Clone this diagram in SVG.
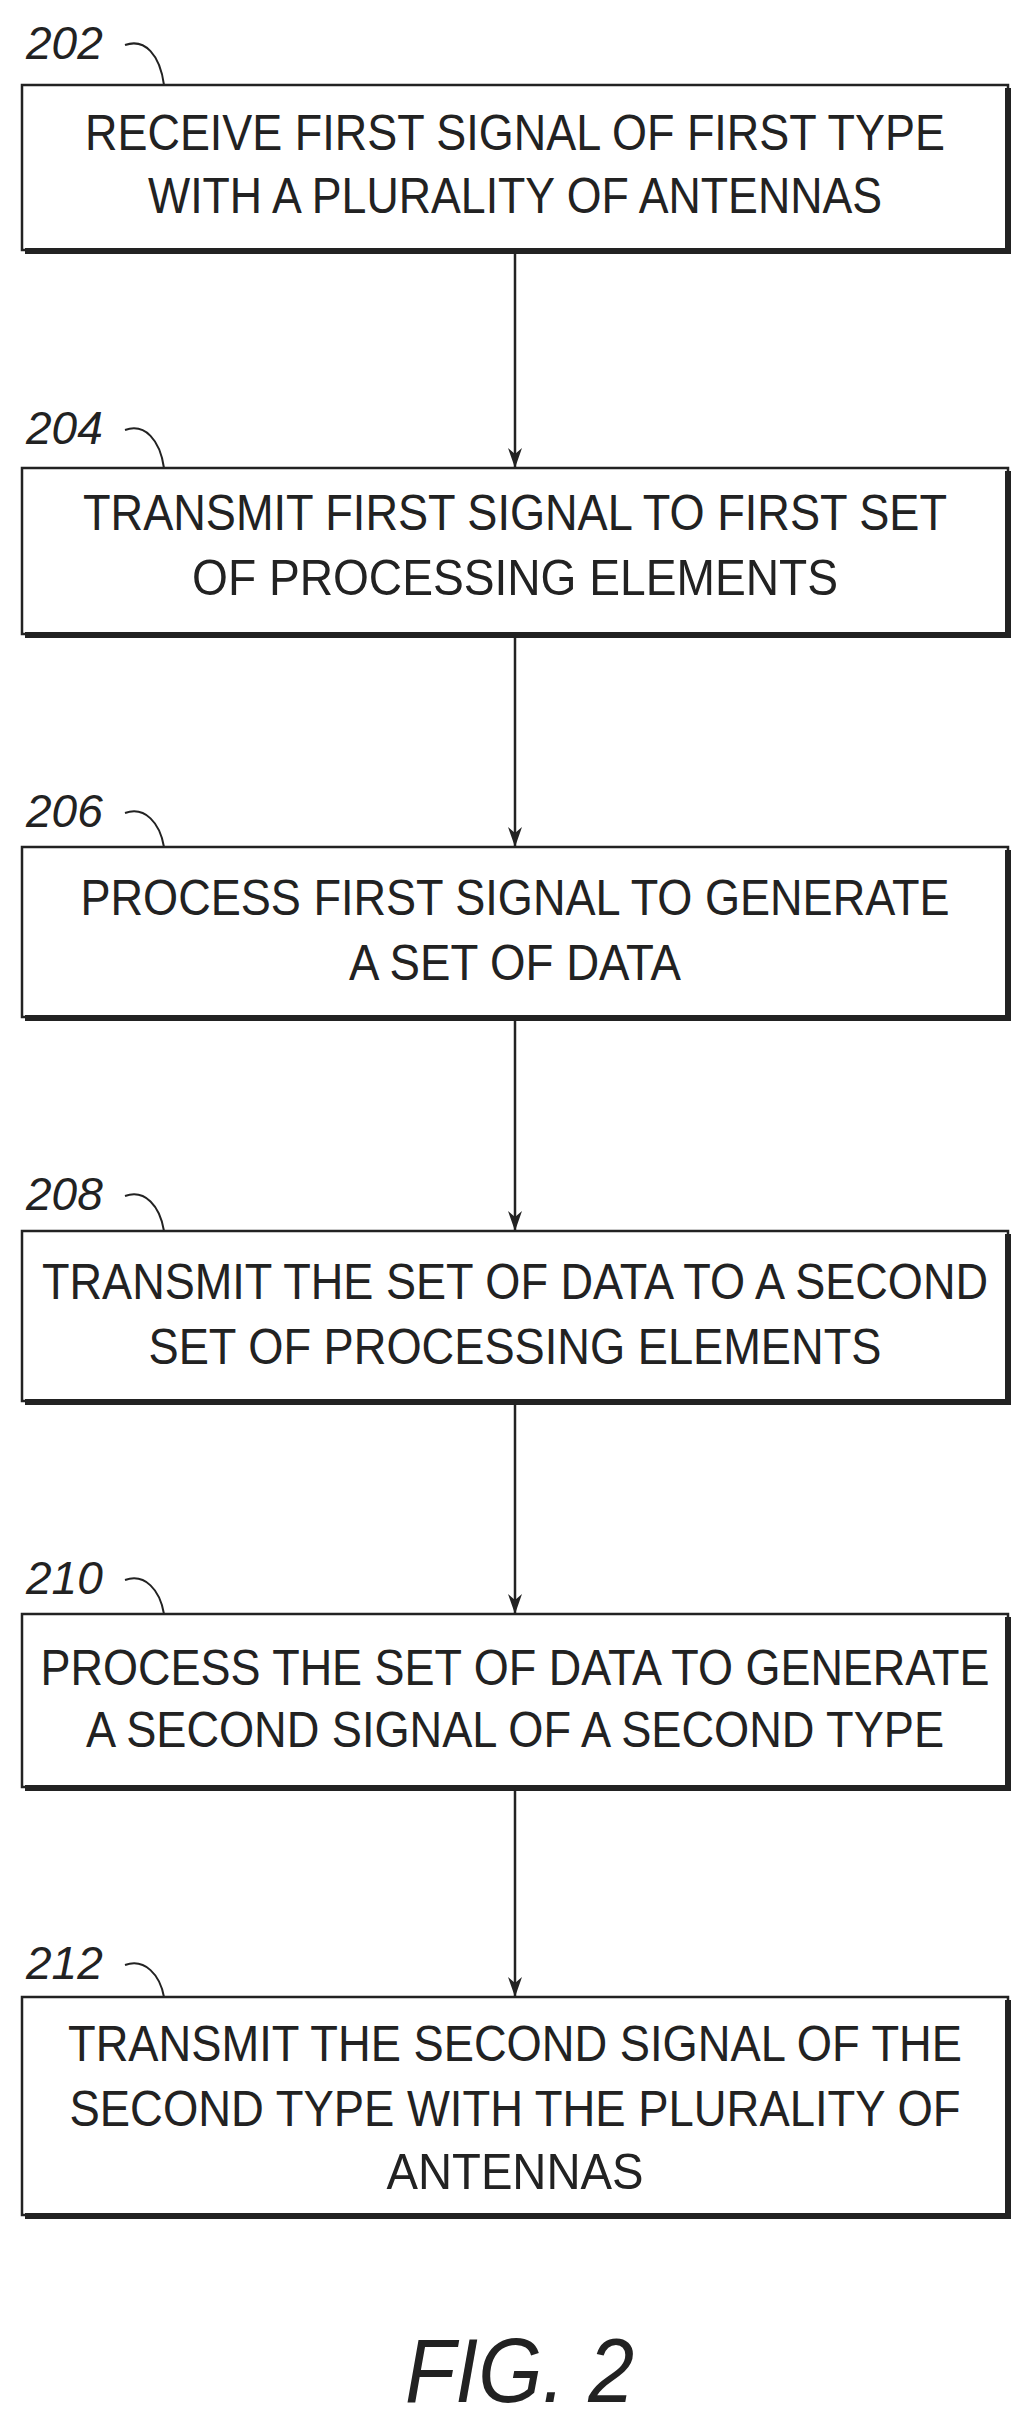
<svg xmlns="http://www.w3.org/2000/svg" width="1028" height="2411" viewBox="0 0 1028 2411">
<defs>
<marker id="ah" markerWidth="22" markerHeight="14" refX="20" refY="7" orient="auto" markerUnits="userSpaceOnUse" viewBox="0 0 22 14"><path d="M0,0 L20,7 L0,14 L6,7 Z" fill="#222"/></marker>
</defs>
<style>
.box{fill:#fff;stroke:#222;stroke-width:2.5}
.sh{stroke:#222;stroke-width:6;fill:none}
.t{font-family:"Liberation Sans",Arial,sans-serif;font-size:50px;fill:#222;text-anchor:middle}
.lbl{font-family:"Liberation Sans",Arial,sans-serif;font-size:46px;font-style:italic;fill:#222}
.ld{fill:none;stroke:#222;stroke-width:2}
.c{stroke:#222;stroke-width:2.5;fill:none;marker-end:url(#ah)}
</style>
<g id="connectors">
<line class="c" x1="515" y1="252" x2="515" y2="468"/>
<line class="c" x1="515" y1="636" x2="515" y2="847"/>
<line class="c" x1="515" y1="1019" x2="515" y2="1231"/>
<line class="c" x1="515" y1="1403" x2="515" y2="1614"/>
<line class="c" x1="515" y1="1789" x2="515" y2="1997"/>
</g>
<g id="n202">
<rect class="box" x="22" y="85" width="986" height="165"/><polyline class="sh" points="1008,88 1008,251 25,251"/>
<text class="t" x="515" y="150" textLength="860" lengthAdjust="spacingAndGlyphs">RECEIVE FIRST SIGNAL OF FIRST TYPE</text>
<text class="t" x="515" y="213" textLength="734" lengthAdjust="spacingAndGlyphs">WITH A PLURALITY OF ANTENNAS</text>
<text class="lbl" x="26" y="59">202</text><path class="ld" d="M125,45 C145,38 160,55 164,85"/>
</g>
<g id="n204">
<rect class="box" x="22" y="468" width="986" height="166"/><polyline class="sh" points="1008,471 1008,635 25,635"/>
<text class="t" x="515" y="530" textLength="864" lengthAdjust="spacingAndGlyphs">TRANSMIT FIRST SIGNAL TO FIRST SET</text>
<text class="t" x="515" y="595" textLength="646" lengthAdjust="spacingAndGlyphs">OF PROCESSING ELEMENTS</text>
<text class="lbl" x="26" y="444">204</text><path class="ld" d="M125,430 C145,423 160,440 164,468"/>
</g>
<g id="n206">
<rect class="box" x="22" y="847" width="986" height="170"/><polyline class="sh" points="1008,850 1008,1018 25,1018"/>
<text class="t" x="515" y="915" textLength="869" lengthAdjust="spacingAndGlyphs">PROCESS FIRST SIGNAL TO GENERATE</text>
<text class="t" x="515" y="980" textLength="332" lengthAdjust="spacingAndGlyphs">A SET OF DATA</text>
<text class="lbl" x="26" y="827">206</text><path class="ld" d="M125,813 C145,806 160,823 164,847"/>
</g>
<g id="n208">
<rect class="box" x="22" y="1231" width="986" height="170"/><polyline class="sh" points="1008,1234 1008,1402 25,1402"/>
<text class="t" x="515" y="1299" textLength="946" lengthAdjust="spacingAndGlyphs">TRANSMIT THE SET OF DATA TO A SECOND</text>
<text class="t" x="515" y="1364" textLength="733" lengthAdjust="spacingAndGlyphs">SET OF PROCESSING ELEMENTS</text>
<text class="lbl" x="26" y="1210">208</text><path class="ld" d="M125,1196 C145,1189 160,1206 164,1231"/>
</g>
<g id="n210">
<rect class="box" x="22" y="1614" width="986" height="173"/><polyline class="sh" points="1008,1617 1008,1788 25,1788"/>
<text class="t" x="515" y="1685" textLength="949" lengthAdjust="spacingAndGlyphs">PROCESS THE SET OF DATA TO GENERATE</text>
<text class="t" x="515" y="1747" textLength="858" lengthAdjust="spacingAndGlyphs">A SECOND SIGNAL OF A SECOND TYPE</text>
<text class="lbl" x="26" y="1594">210</text><path class="ld" d="M125,1580 C145,1573 160,1590 164,1614"/>
</g>
<g id="n212">
<rect class="box" x="22" y="1997" width="986" height="218"/><polyline class="sh" points="1008,2000 1008,2216 25,2216"/>
<text class="t" x="515" y="2061" textLength="894" lengthAdjust="spacingAndGlyphs">TRANSMIT THE SECOND SIGNAL OF THE</text>
<text class="t" x="515" y="2126" textLength="891" lengthAdjust="spacingAndGlyphs">SECOND TYPE WITH THE PLURALITY OF</text>
<text class="t" x="515" y="2189" textLength="257" lengthAdjust="spacingAndGlyphs">ANTENNAS</text>
<text class="lbl" x="26" y="1979">212</text><path class="ld" d="M125,1965 C145,1958 160,1975 164,1997"/>
</g>
<text x="405" y="2402" font-family="'Liberation Sans',Arial,sans-serif" font-size="90" font-style="italic" fill="#222" textLength="229" lengthAdjust="spacingAndGlyphs">FIG. 2</text>
</svg>
